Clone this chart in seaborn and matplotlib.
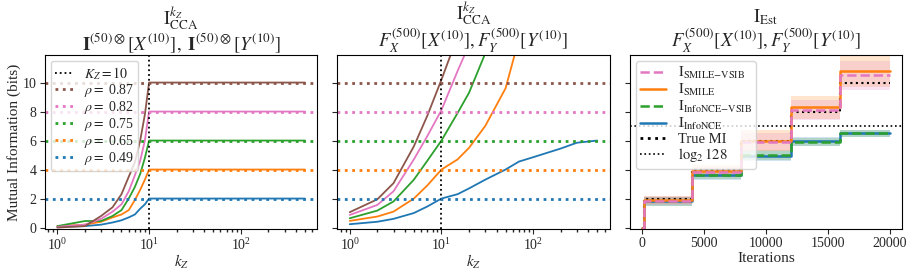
import matplotlib
matplotlib.use("Agg")
import matplotlib.pyplot as plt
import numpy as np
import pandas as pd
import seaborn as sns
from matplotlib.lines import Line2D

sns.set_theme(style="ticks")
plt.rcParams.update({
    "font.family": ["Liberation Serif", "DejaVu Serif"],
    "mathtext.fontset": "stix",
    "font.size": 10,
    "axes.titlesize": 13.5,
    "axes.labelsize": 11,
    "xtick.labelsize": 10,
    "ytick.labelsize": 10,
    "legend.fontsize": 10.5,
    "axes.edgecolor": "black",
    "axes.linewidth": 0.8,
    "axes.labelpad": 1.5,
    "axes.titlepad": 3,
    "xtick.major.size": 3.5,
    "ytick.major.size": 3.5,
    "xtick.minor.size": 2,
    "ytick.minor.size": 2,
    "xtick.major.pad": 2.5,
    "ytick.major.pad": 2.5,
    "xtick.major.width": 0.8,
    "ytick.major.width": 0.8,
})

# ---- data -------------------------------------------------------------
RHOS = [0.87, 0.82, 0.75, 0.65, 0.49]
TRUE_MI = [10, 8, 6, 4, 2]
COLORS = ["#8c564b", "#e377c2", "#2ca02c", "#ff7f0e", "#1f77b4"]

# panel 1: CCA on identity-embedded data, flat after k_Z = 10
kz_p1 = [1, 2, 3, 4, 5, 6, 7, 8, 9, 10, 500]
cca_id = {
    0.87: [0.0, 0.1, 0.8, 1.4, 2.3, 3.5, 4.5, 6.0, 7.8, 10.0, 10.0],
    0.82: [0.05, 0.2, 0.6, 1.1, 1.6, 2.5, 3.6, 4.6, 6.0, 8.0, 8.0],
    0.75: [0.1, 0.45, 0.45, 0.8, 1.2, 2.0, 2.8, 3.7, 4.8, 6.0, 6.0],
    0.65: [0.1, 0.2, 0.4, 0.7, 0.9, 1.2, 1.9, 2.6, 3.3, 4.0, 4.0],
    0.49: [0.05, 0.1, 0.2, 0.35, 0.5, 0.7, 0.9, 1.3, 1.6, 2.0, 2.0],
}

# panel 2: CCA on nonlinearly embedded data
kz_p2 = {
    0.87: [1, 2, 3, 5, 7, 10, 15],
    0.82: [1, 2, 3, 5, 7, 10, 15, 20],
    0.75: [1, 2, 3, 5, 7, 10, 15, 20, 30],
    0.65: [1, 2, 3, 5, 7, 10, 15, 20, 30, 50, 70],
    0.49: [1, 2, 3, 5, 7, 10, 15, 20, 30, 50, 70, 100, 200, 300, 500],
}
cca_nl = {
    0.87: [1.06, 1.95, 3.06, 5.6, 7.7, 10.2, 13.2],
    0.82: [0.87, 1.56, 2.5, 4.7, 6.3, 8.1, 10.8, 12.6],
    0.75: [0.64, 1.17, 1.8, 3.3, 4.6, 6.0, 7.9, 9.3, 12.0],
    0.65: [0.46, 0.76, 1.1, 2.0, 2.9, 4.0, 4.7, 5.5, 7.0, 9.6, 13.0],
    0.49: [0.23, 0.4, 0.6, 1.0, 1.45, 2.0, 2.3, 2.7, 3.3, 4.0, 4.55, 4.85, 5.45, 5.85, 6.0],
}

# panel 3: neural estimators over training (per-stage levels)
iters = [0, 150, 4000, 8000, 12000, 16000, 20000]
true_steps = [0, 2, 4, 6, 8, 10, 10]
est_levels = {
    "InfoNCE": [0, 1.8, 3.6, 4.95, 5.95, 6.5, 6.5],
    "InfoNCE-VSIB": [0, 1.8, 3.65, 5.0, 5.9, 6.5, 6.5],
    "SMILE": [0, 1.9, 3.9, 6.0, 8.3, 10.8, 10.8],
    "SMILE-VSIB": [0, 1.85, 3.85, 5.9, 8.1, 10.5, 10.5],
}
est_spread = {
    "InfoNCE": [0, 0.3, 0.3, 0.35, 0.3, 0.25, 0.25],
    "InfoNCE-VSIB": [0, 0.3, 0.3, 0.35, 0.3, 0.25, 0.25],
    "SMILE": [0, 0.3, 0.4, 0.7, 0.8, 1.1, 1.1],
    "SMILE-VSIB": [0, 0.3, 0.35, 0.6, 0.7, 1.0, 1.0],
}
est_colors = {"InfoNCE": "#1f77b4", "InfoNCE-VSIB": "#2ca02c",
              "SMILE": "#ff7f0e", "SMILE-VSIB": "#e377c2"}
est_styles = {"InfoNCE": "-", "InfoNCE-VSIB": "--", "SMILE": "-", "SMILE-VSIB": "--"}
LOG2_BATCH = 7.0


def long_df(kz, vals):
    rows = []
    for rho in RHOS:
        xs = kz[rho] if isinstance(kz, dict) else kz
        for x, v in zip(xs, vals[rho]):
            rows.append({"kZ": x, "MI": v, "rho": rho})
    return pd.DataFrame(rows)


fig, axes = plt.subplots(1, 3, figsize=(9.13, 2.77), dpi=100, sharey=True)
fig.subplots_adjust(left=45 / 913, right=902 / 913, bottom=1 - 229 / 277,
                    top=1 - 55 / 277, wspace=0.074)
palette = dict(zip(RHOS, COLORS))

for ax, df in [(axes[0], long_df(kz_p1, cca_id)), (axes[1], long_df(kz_p2, cca_nl))]:
    sns.lineplot(data=df, x="kZ", y="MI", hue="rho", palette=palette,
                 legend=False, lw=1.3, ax=ax, sort=True)
    ax.set_xscale("log")
    ax.axvline(10, color="black", ls=":", lw=1.3, label=r"$K_Z = 10$")
    for rho, mi, c in zip(RHOS, TRUE_MI, COLORS):
        ax.axhline(mi, color=c, ls=":", lw=2, label=rf"$\rho = $ {rho}")
    ax.set_xlabel(r"$k_Z$", labelpad=0)
    ax.set_ylabel("")

axes[0].set_ylabel("Mutual Information (bits)")
axes[0].legend(loc="upper left", framealpha=0.8, borderpad=0.3, fontsize=10,
               labelspacing=0.0, handlelength=1.3, borderaxespad=0.4)
axes[0].set_title(r"$\mathrm{I}_{\mathrm{CCA}}^{k_Z}$" "\n"
                  r"$\mathbf{I}^{(50)\otimes}[X^{(10)}],\ \mathbf{I}^{(50)\otimes}[Y^{(10)}]$",
                  linespacing=1.0)
axes[1].set_title(r"$\mathrm{I}_{\mathrm{CCA}}^{k_Z}$" "\n"
                  r"$F_X^{(500)}[X^{(10)}], F_Y^{(500)}[Y^{(10)}]$", linespacing=1.0)

# panel 3
ax = axes[2]
for name in ["InfoNCE", "InfoNCE-VSIB", "SMILE", "SMILE-VSIB"]:
    lv = np.array(est_levels[name])
    sp = np.array(est_spread[name])
    ax.fill_between(iters, lv - sp, lv + sp, step="post",
                    color=est_colors[name], alpha=0.2, lw=0)
ax.plot(iters, true_steps, color="black", ls=":", lw=1.5, drawstyle="steps-post")
for name in ["InfoNCE", "InfoNCE-VSIB", "SMILE", "SMILE-VSIB"]:
    d = pd.DataFrame({"it": iters, "mi": est_levels[name]})
    sns.lineplot(data=d, x="it", y="mi", color=est_colors[name],
                 ls=est_styles[name], lw=1.8, drawstyle="steps-post", ax=ax)
ax.axhline(LOG2_BATCH, color="black", ls=":", lw=1.2)
ax.set_xlabel("Iterations")
ax.set_ylabel("")
ax.set_title(r"$\mathrm{I}_{\mathrm{Est}}$" "\n"
             r"$F_X^{(500)}[X^{(10)}], F_Y^{(500)}[Y^{(10)}]$", linespacing=1.0)
handles = [
    Line2D([], [], color=est_colors["SMILE-VSIB"], ls="--", lw=1.8),
    Line2D([], [], color=est_colors["SMILE"], ls="-", lw=1.8),
    Line2D([], [], color=est_colors["InfoNCE-VSIB"], ls="--", lw=1.8),
    Line2D([], [], color=est_colors["InfoNCE"], ls="-", lw=1.8),
    Line2D([], [], color="black", ls=":", lw=2),
    Line2D([], [], color="black", ls=":", lw=1.2),
]
labels = [r"$\mathrm{I}_{\mathrm{SMILE}\mathrm{-VSIB}}$", r"$\mathrm{I}_{\mathrm{SMILE}}$",
          r"$\mathrm{I}_{\mathrm{InfoNCE}\mathrm{-VSIB}}$", r"$\mathrm{I}_{\mathrm{InfoNCE}}$",
          "True MI", r"$\log_2 128$"]
ax.legend(handles, labels, loc="upper left", framealpha=0.8, borderpad=0.3,
          labelspacing=0.05, handlelength=1.8, borderaxespad=0.4)
ax.set_xticks([0, 5000, 10000, 15000, 20000])

axes[0].set_ylim(-0.1, 11.9)
axes[0].set_yticks([0, 2, 4, 6, 8, 10])

fig.savefig("out.png", dpi=100)
